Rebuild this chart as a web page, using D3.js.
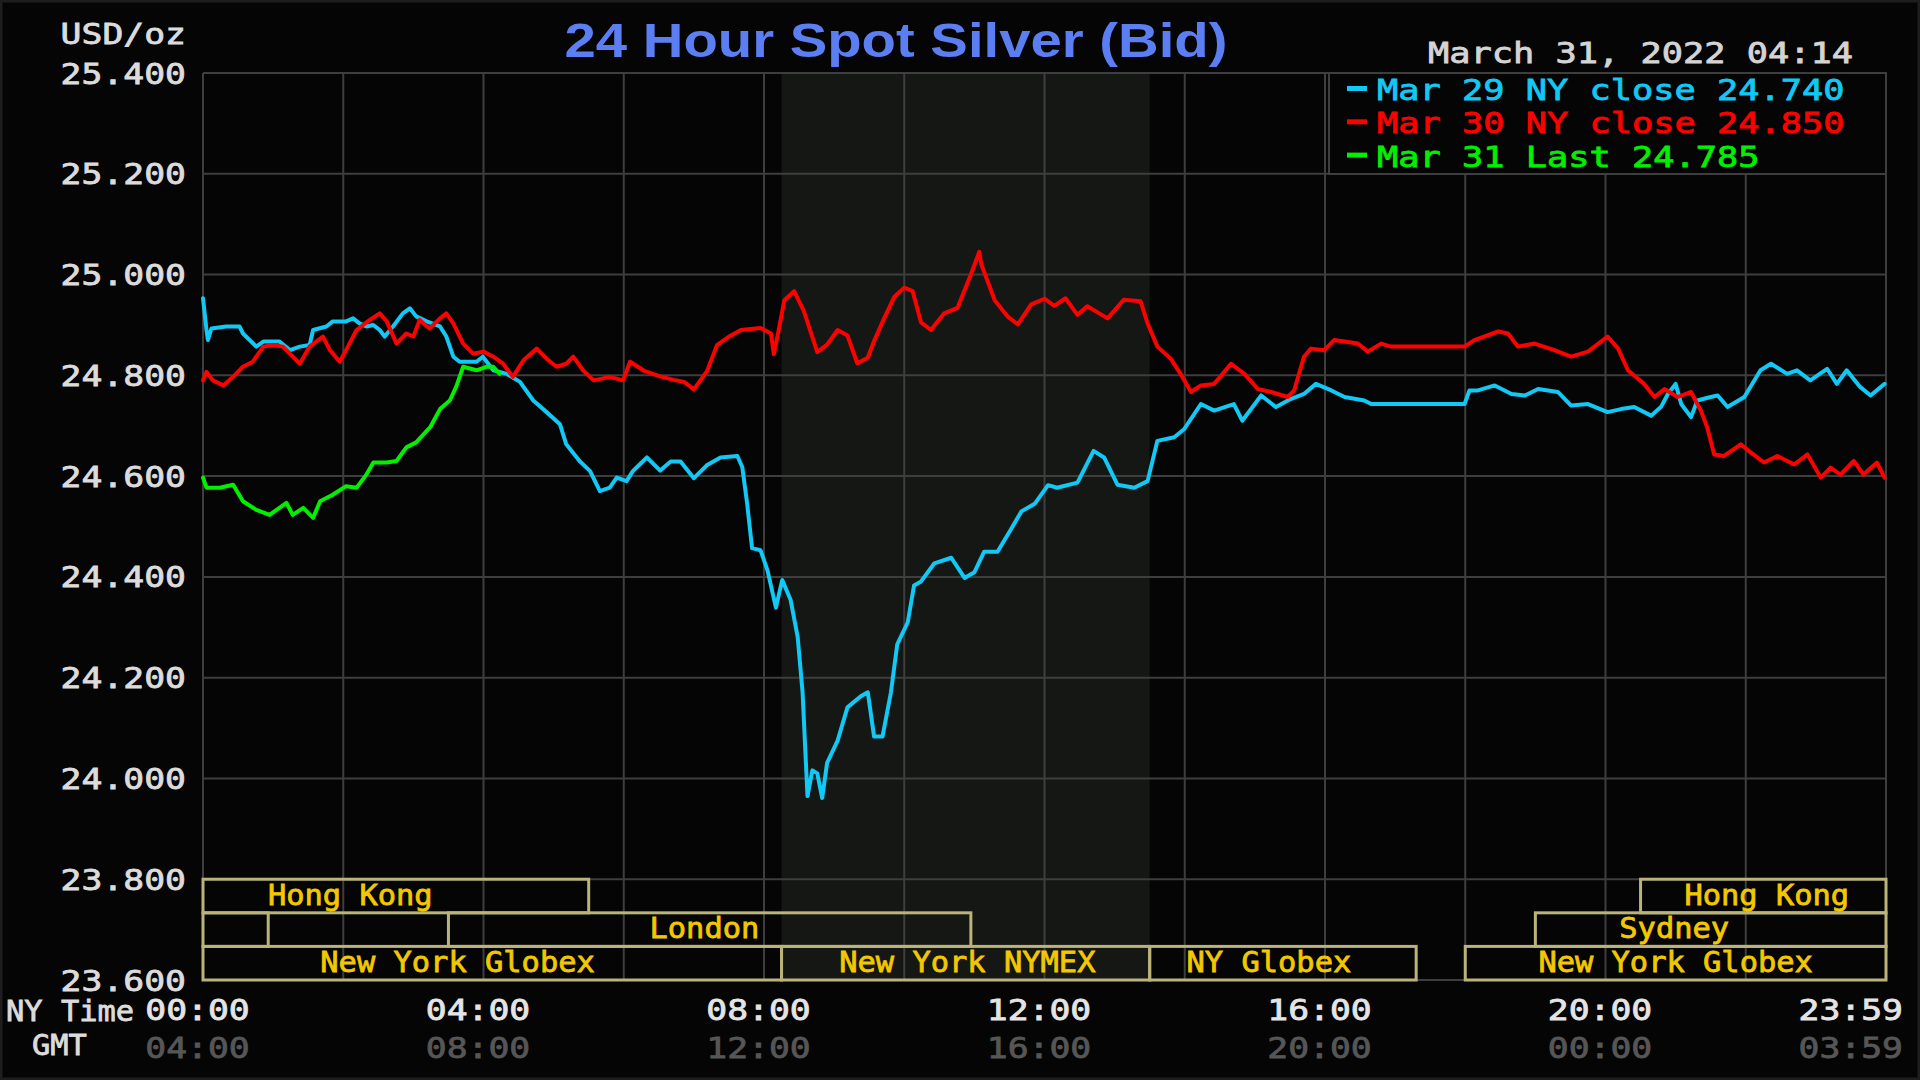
<!DOCTYPE html>
<html><head><meta charset="utf-8">
<script src="https://cdn.jsdelivr.net/npm/d3@7"></script>
<style>html,body{margin:0;padding:0;background:#050505;overflow:hidden}</style>
</head><body><svg id="c" width="1920" height="1080"></svg>
<script>
// ---------- DATA ----------
const titleText = "24 Hour Spot Silver (Bid)";
const unitText = "USD/oz";
const dateText = "March 31, 2022 04:14";
const yTicks = [23.6, 23.8, 24.0, 24.2, 24.4, 24.6, 24.8, 25.0, 25.2, 25.4];
const xGridHours = [0, 2, 4, 6, 8, 10, 12, 14, 16, 18, 20, 22, 24];
const xTickHours = [0, 4, 8, 12, 16, 20, 23.983];
const nyTimeLabels = ["00:00", "04:00", "08:00", "12:00", "16:00", "20:00", "23:59"];
const gmtLabels = ["04:00", "08:00", "12:00", "16:00", "20:00", "00:00", "03:59"];
const nymexHours = [8.25, 13.5];

const legendLabels = ["Mar 29 NY close 24.740", "Mar 30 NY close 24.850", "Mar 31 Last 24.785"];

const sessionNames = ["Hong Kong", "Hong Kong", "", "London", "Sydney", "New York Globex", "New York NYMEX", "NY Globex", "New York Globex"];
const sessionRows = [0, 0, 1, 1, 1, 2, 2, 2, 2];
const sessionStart = [0, 20.5, 0, 3.5, 19, 0, 8.25, 13.5, 18];
const sessionEnd = [5.5, 24, 0.93, 10.95, 24, 8.25, 13.5, 17.3, 24];
const sessionLabelHour = [2.1, 22.3, 0, 7.15, 20.98, 3.63, 10.9, 15.2, 21.0];

// Mar 29 (cyan) [hour NY, price]
const mar29 = [[0.00,24.953],[0.05,24.890],[0.07,24.870],[0.12,24.893],[0.33,24.897],[0.52,24.897],[0.57,24.883],[0.76,24.857],[0.86,24.867],[1.09,24.867],[1.24,24.850],[1.38,24.857],[1.52,24.860],[1.57,24.890],[1.76,24.897],[1.85,24.907],[2.04,24.907],[2.14,24.913],[2.23,24.903],[2.33,24.897],[2.43,24.900],[2.52,24.890],[2.59,24.877],[2.71,24.897],[2.85,24.923],[2.95,24.933],[3.04,24.917],[3.19,24.907],[3.38,24.897],[3.47,24.877],[3.57,24.837],[3.66,24.827],[3.90,24.827],[3.99,24.837],[4.14,24.810],[4.33,24.803],[4.52,24.787],[4.71,24.750],[4.90,24.727],[5.09,24.703],[5.18,24.663],[5.37,24.630],[5.52,24.610],[5.66,24.570],[5.80,24.577],[5.90,24.597],[6.04,24.590],[6.13,24.610],[6.19,24.618],[6.33,24.637],[6.52,24.611],[6.67,24.629],[6.81,24.629],[7.00,24.596],[7.19,24.622],[7.38,24.637],[7.62,24.640],[7.69,24.618],[7.76,24.545],[7.83,24.457],[7.95,24.453],[8.05,24.413],[8.17,24.339],[8.26,24.394],[8.38,24.354],[8.48,24.281],[8.55,24.171],[8.62,23.965],[8.69,24.016],[8.76,24.010],[8.83,23.961],[8.90,24.031],[9.05,24.075],[9.19,24.141],[9.38,24.163],[9.48,24.171],[9.57,24.083],[9.69,24.083],[9.81,24.171],[9.90,24.266],[10.05,24.310],[10.14,24.383],[10.24,24.391],[10.43,24.427],[10.67,24.438],[10.86,24.398],[11.00,24.409],[11.14,24.450],[11.33,24.450],[11.52,24.494],[11.67,24.530],[11.86,24.545],[12.05,24.582],[12.18,24.577],[12.47,24.587],[12.70,24.650],[12.85,24.637],[13.04,24.583],[13.28,24.577],[13.47,24.590],[13.61,24.670],[13.85,24.677],[13.99,24.693],[14.23,24.743],[14.42,24.730],[14.70,24.743],[14.82,24.710],[15.09,24.760],[15.30,24.737],[15.51,24.753],[15.70,24.763],[15.87,24.783],[16.09,24.770],[16.28,24.757],[16.56,24.750],[16.66,24.743],[17.99,24.743],[18.06,24.770],[18.18,24.770],[18.42,24.780],[18.66,24.763],[18.85,24.760],[19.04,24.773],[19.32,24.767],[19.51,24.740],[19.75,24.743],[20.03,24.727],[20.22,24.733],[20.41,24.737],[20.65,24.720],[20.79,24.737],[20.89,24.763],[21.00,24.783],[21.08,24.743],[21.22,24.717],[21.31,24.750],[21.50,24.757],[21.60,24.760],[21.74,24.737],[21.98,24.757],[22.21,24.810],[22.36,24.823],[22.59,24.803],[22.73,24.810],[22.92,24.790],[23.16,24.813],[23.30,24.783],[23.44,24.810],[23.63,24.777],[23.78,24.760],[23.98,24.783]];

// Mar 30 (red)
const mar30 = [[0.00,24.790],[0.05,24.807],[0.14,24.790],[0.29,24.780],[0.43,24.797],[0.57,24.817],[0.71,24.827],[0.86,24.857],[1.00,24.860],[1.14,24.857],[1.24,24.843],[1.38,24.823],[1.52,24.857],[1.71,24.877],[1.81,24.850],[1.95,24.827],[2.04,24.850],[2.19,24.890],[2.38,24.910],[2.52,24.923],[2.62,24.907],[2.76,24.863],[2.90,24.883],[3.00,24.877],[3.09,24.910],[3.23,24.893],[3.38,24.913],[3.47,24.923],[3.57,24.903],[3.71,24.863],[3.85,24.843],[4.00,24.847],[4.14,24.837],[4.28,24.823],[4.42,24.797],[4.57,24.830],[4.76,24.853],[4.90,24.833],[5.04,24.817],[5.18,24.823],[5.28,24.837],[5.42,24.810],[5.57,24.790],[5.80,24.797],[5.99,24.790],[6.09,24.827],[6.29,24.809],[6.52,24.798],[6.71,24.791],[6.86,24.787],[7.00,24.772],[7.19,24.809],[7.33,24.860],[7.48,24.875],[7.67,24.890],[7.95,24.894],[8.10,24.883],[8.14,24.842],[8.21,24.890],[8.29,24.949],[8.43,24.967],[8.57,24.927],[8.76,24.846],[8.90,24.861],[9.05,24.890],[9.19,24.879],[9.33,24.824],[9.48,24.835],[9.57,24.868],[9.71,24.912],[9.86,24.956],[10.00,24.974],[10.12,24.967],[10.24,24.905],[10.38,24.890],[10.57,24.923],[10.76,24.934],[10.95,25.000],[11.07,25.045],[11.10,25.020],[11.29,24.949],[11.48,24.916],[11.62,24.901],[11.81,24.941],[12.00,24.952],[12.14,24.938],[12.30,24.953],[12.47,24.920],[12.61,24.937],[12.90,24.913],[13.13,24.950],[13.37,24.947],[13.47,24.903],[13.61,24.857],[13.80,24.833],[13.94,24.803],[14.09,24.767],[14.23,24.780],[14.42,24.783],[14.66,24.823],[14.85,24.803],[15.04,24.773],[15.23,24.767],[15.47,24.757],[15.56,24.770],[15.70,24.837],[15.80,24.853],[15.99,24.850],[16.13,24.870],[16.47,24.863],[16.61,24.847],[16.80,24.863],[16.94,24.857],[17.99,24.857],[18.13,24.870],[18.47,24.887],[18.61,24.883],[18.75,24.857],[18.99,24.863],[19.27,24.850],[19.51,24.837],[19.75,24.847],[20.03,24.877],[20.18,24.853],[20.32,24.810],[20.55,24.783],[20.70,24.757],[20.84,24.773],[21.03,24.757],[21.22,24.767],[21.36,24.730],[21.45,24.697],[21.55,24.643],[21.69,24.640],[21.93,24.663],[22.07,24.647],[22.26,24.627],[22.45,24.640],[22.69,24.623],[22.88,24.643],[23.07,24.597],[23.21,24.617],[23.35,24.603],[23.54,24.630],[23.68,24.603],[23.87,24.627],[23.98,24.597]];

// Mar 31 (green)
const mar31 = [[0.00,24.597],[0.05,24.577],[0.24,24.577],[0.43,24.583],[0.57,24.550],[0.76,24.533],[0.95,24.523],[1.09,24.537],[1.19,24.547],[1.28,24.523],[1.43,24.537],[1.57,24.517],[1.67,24.550],[1.85,24.563],[2.04,24.580],[2.19,24.577],[2.33,24.603],[2.43,24.627],[2.62,24.627],[2.76,24.630],[2.90,24.657],[3.04,24.667],[3.24,24.697],[3.38,24.733],[3.52,24.750],[3.61,24.777],[3.71,24.817],[3.90,24.810],[4.04,24.817],[4.14,24.817],[4.23,24.803]];

const seriesData = [mar29, mar30, mar31];
const seriesColors = ["#12c8f4", "#ff0000", "#00f000"];

// ---------- DRAW ----------
const svg = d3.select("#c");
const W = 1920, H = 1080;
const L = 203, R = 1886, T = 73, B = 980;
const x = d3.scaleLinear().domain([0, 24]).range([L, R]);
const y = d3.scaleLinear().domain([23.6, 25.4]).range([B, T]);
const MONO = "'DejaVu Sans Mono', 'Liberation Mono', monospace";
const gridCol = "#3e3e3e";

svg.append("rect").attr("width", W).attr("height", H).attr("fill", "#050505");
svg.append("rect").attr("x", 1).attr("y", 1).attr("width", W - 2).attr("height", H - 2)
  .attr("fill", "none").attr("stroke", "#1e1e1e").attr("stroke-width", 3);

// NYMEX shading
svg.append("rect").attr("x", x(nymexHours[0])).attr("y", T)
  .attr("width", x(nymexHours[1]) - x(nymexHours[0])).attr("height", B - T)
  .attr("fill", "#151714");

// grid
const g = svg.append("g");
g.selectAll("line.v").data(xGridHours).join("line")
  .attr("x1", d => x(d)).attr("x2", d => x(d)).attr("y1", T).attr("y2", B)
  .attr("stroke", gridCol).attr("stroke-width", 2);
g.selectAll("line.h").data(yTicks).join("line")
  .attr("x1", L).attr("x2", R).attr("y1", d => y(d)).attr("y2", d => y(d))
  .attr("stroke", gridCol).attr("stroke-width", 2);

// mono text helper (slightly thickened to mimic the bitmap font)
function monoText(sel, txt, adv, size, color) {
  sel.text(txt).attr("font-family", MONO).attr("font-size", size)
    .attr("textLength", txt.length * adv).attr("lengthAdjust", "spacingAndGlyphs")
    .attr("fill", color).attr("stroke", color).attr("stroke-width", 0.8);
  return sel;
}

// y axis labels
const fmt = d3.format(".3f");
yTicks.forEach(v => {
  monoText(svg.append("text"), fmt(v), 20.9, 28.5, "#dcdcdc")
    .attr("x", 186).attr("y", y(v) + 10.5).attr("text-anchor", "end");
});
monoText(svg.append("text"), unitText, 20.9, 28.5, "#dcdcdc")
  .attr("x", 186).attr("y", 44).attr("text-anchor", "end");

// x axis labels
xTickHours.forEach((h, i) => {
  const last = i === xTickHours.length - 1;
  const xx = last ? 1903 : x(h) - 5.5;
  const anchor = last ? "end" : "middle";
  monoText(svg.append("text"), nyTimeLabels[i], 20.9, 28.5, "#e4e4e4")
    .attr("x", xx).attr("y", 1020).attr("text-anchor", anchor);
  monoText(svg.append("text"), gmtLabels[i], 20.9, 28.5, "#565656")
    .attr("x", xx).attr("y", 1058).attr("text-anchor", anchor);
});
monoText(svg.append("text"), "NY Time", 18.3, 29, "#dcdcdc")
  .attr("x", 6).attr("y", 1021);
monoText(svg.append("text"), "GMT", 18.3, 29, "#dcdcdc")
  .attr("x", 32).attr("y", 1055);

// sessions
const rowH = (y(23.6) - y(23.8)) / 3;
sessionNames.forEach((name, i) => {
  const top = y(23.8) + sessionRows[i] * rowH;
  svg.append("rect").attr("x", x(sessionStart[i])).attr("y", top)
    .attr("width", x(sessionEnd[i]) - x(sessionStart[i])).attr("height", rowH)
    .attr("fill", "none").attr("stroke", "#bab37a").attr("stroke-width", 3);
});
sessionNames.forEach((name, i) => {
  if (!name) return;
  const top = y(23.8) + sessionRows[i] * rowH;
  monoText(svg.append("text"), name, 18.3, 29, "#f2c800")
    .attr("x", x(sessionLabelHour[i])).attr("y", top + rowH / 2 + 8.5)
    .attr("text-anchor", "middle");
});

// lines
const line = d3.line().x(d => x(d[0])).y(d => y(d[1]));
seriesData.forEach((s, i) => {
  svg.append("path").datum(s).attr("d", line).attr("fill", "none")
    .attr("stroke", seriesColors[i]).attr("stroke-width", 4)
    .attr("stroke-linejoin", "round").attr("stroke-linecap", "round");
});

// legend
svg.append("rect").attr("x", 1329).attr("y", T).attr("width", R - 1329).attr("height", 174 - T)
  .attr("fill", "#050505").attr("stroke", gridCol).attr("stroke-width", 2);
legendLabels.forEach((lab, i) => {
  const base = 100 + i * 33.3;
  svg.append("rect").attr("x", 1347).attr("y", base - 14).attr("width", 20).attr("height", 5)
    .attr("fill", seriesColors[i]);
  monoText(svg.append("text"), lab, 21.25, 28.5, seriesColors[i])
    .attr("x", 1377).attr("y", base);
});

// date
monoText(svg.append("text"), dateText, 21.25, 28.5, "#d4d4d4")
  .attr("x", 1428).attr("y", 63);

// title
svg.append("text").text(titleText)
  .attr("x", 896).attr("y", 57).attr("text-anchor", "middle")
  .attr("font-family", "'Liberation Sans', Arial, sans-serif").attr("font-weight", "bold")
  .attr("font-size", 47.5).attr("fill", "#5b7ff2")
  .attr("textLength", 663).attr("lengthAdjust", "spacingAndGlyphs");
</script></body></html>
